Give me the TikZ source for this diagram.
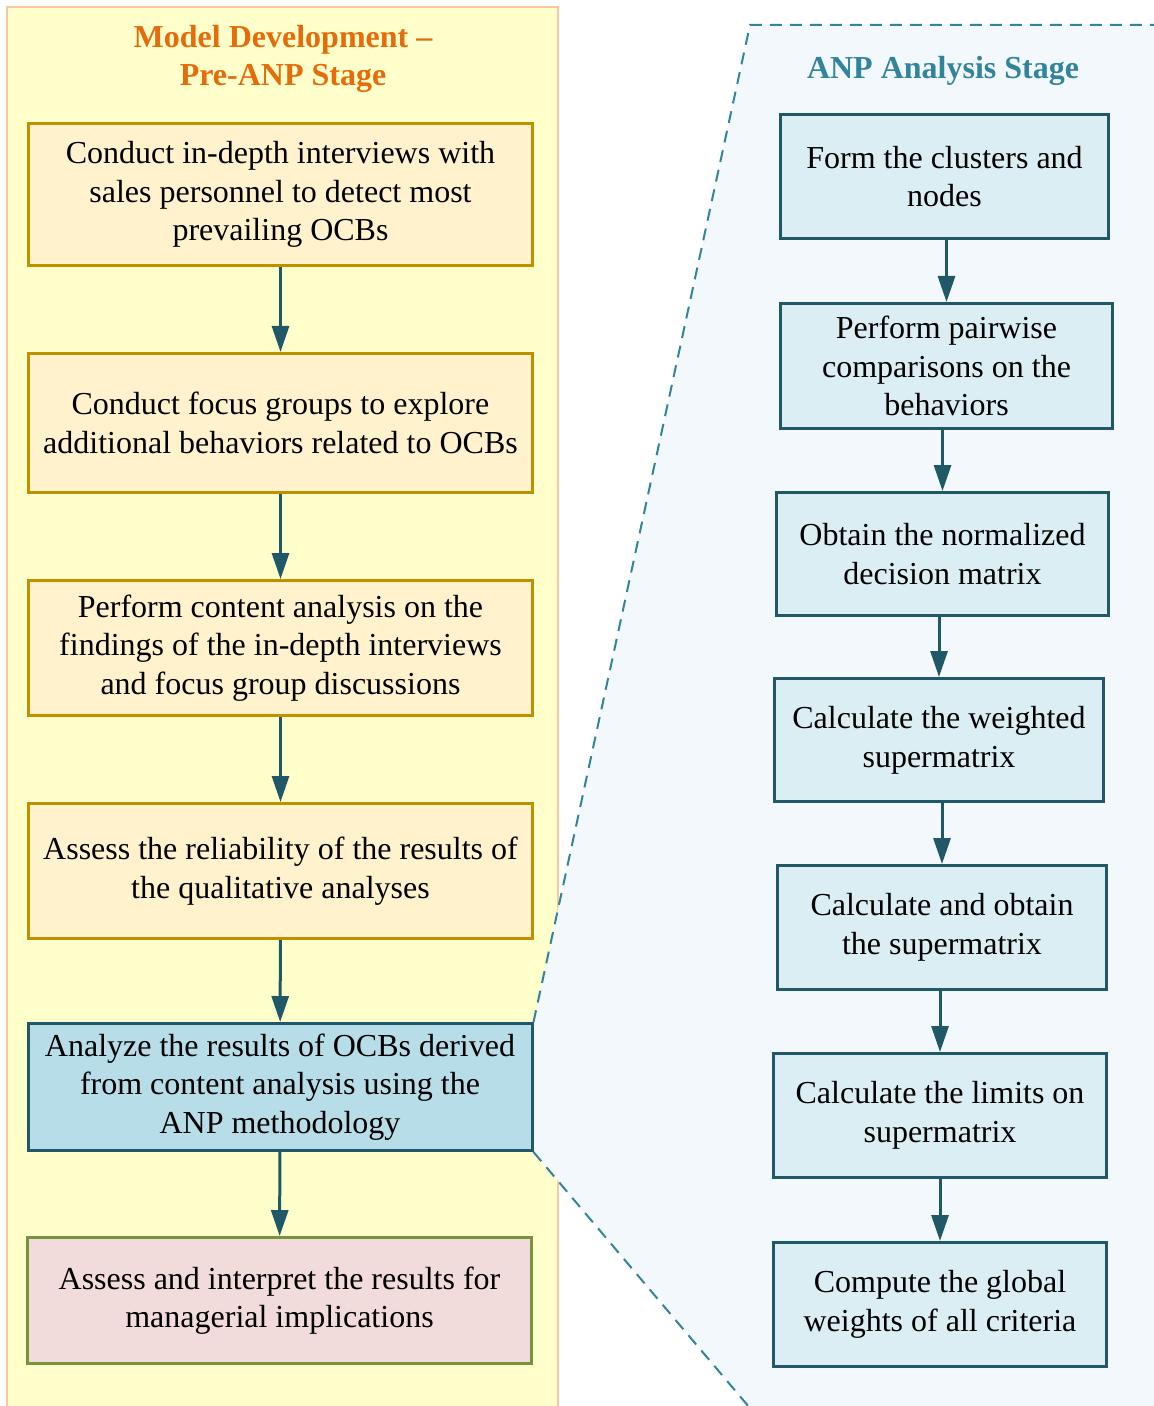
\documentclass[tikz,border=0pt]{standalone}
\usepackage{fontspec}
\setmainfont{Liberation Serif}
\usetikzlibrary{arrows.meta, backgrounds}

\definecolor{panelfill}{HTML}{FFFFCC}
\definecolor{panelline}{HTML}{F9C6A2}
\definecolor{prefill}{HTML}{FFF2CC}
\definecolor{preline}{HTML}{BF9000}
\definecolor{anpfill}{HTML}{B7DDE8}
\definecolor{anpline}{HTML}{215868}
\definecolor{lastfill}{HTML}{F2DCDB}
\definecolor{lastline}{HTML}{77933C}
\definecolor{zonefill}{HTML}{F2F8FB}
\definecolor{zoneline}{HTML}{31849B}
\definecolor{stepfill}{HTML}{DAEEF3}
\definecolor{titleorange}{HTML}{E46C0A}

\begin{document}
\begin{tikzpicture}[x=0.5pt, y=-0.5pt,
  every node/.style={font=\fontsize{16}{19.3}\selectfont, align=center, inner sep=0pt},
  boxtext/.style={execute at begin node={\rule{0pt}{14pt}}},
  prebox/.style={boxtext, draw=preline, fill=prefill, line width=1.5pt, minimum width=252pt},
  anpbox/.style={boxtext, draw=anpline, fill=stepfill, line width=1.5pt},
  flow/.style={draw=anpline, line width=1.5pt, -{Triangle[length=13pt, width=8.5pt]}}]
  \useasboundingbox (0,0) rectangle (1154,1406);

  % left column: pre-ANP stage
  \node[font=\fontsize{16}{19}\selectfont\bfseries, text=titleorange] (pretitle) at (283,59)
    {Model Development --\\ Pre-ANP Stage};

  \node[prebox, minimum height=71pt] (interviews) at (280.5,194.5)
    {Conduct in-depth interviews with\\ sales personnel to detect most\\ prevailing OCBs};
  \node[prebox, minimum height=69.5pt] (focus) at (280.5,423)
    {Conduct focus groups to explore\\ additional behaviors related to OCBs};
  \node[prebox, minimum height=67.5pt] (content) at (280.5,648)
    {Perform content analysis on the\\ findings of the in-depth interviews\\ and focus group discussions};
  \node[prebox, minimum height=67.5pt] (reliability) at (280.5,871)
    {Assess the reliability of the results of\\ the qualitative analyses};
  \node[prebox, draw=anpline, fill=anpfill, minimum height=63.5pt] (analyze) at (280,1087)
    {Analyze the results of OCBs derived\\ from content analysis using the\\ ANP methodology};
  \node[prebox, draw=lastline, fill=lastfill, minimum height=63pt] (implications) at (279.5,1300.5)
    {Assess and interpret the results for\\ managerial implications};

  \draw[flow] (interviews) -- (focus);
  \draw[flow] (focus) -- (content);
  \draw[flow] (content) -- (reliability);
  \draw[flow] (reliability) -- (analyze);
  \draw[flow] (analyze) -- (implications);

  % right column: ANP analysis stage
  \node[font=\fontsize{16}{19}\selectfont\bfseries, text=zoneline] (anptitle) at (943,71)
    {ANP Analysis Stage};

  \node[anpbox, minimum width=164pt, minimum height=62pt] (clusters) at (944.5,176.5)
    {Form the clusters and\\ nodes};
  \node[anpbox, minimum width=166pt, minimum height=62.5pt] (pairwise) at (946.5,366)
    {Perform pairwise\\ comparisons on the\\ behaviors};
  \node[anpbox, minimum width=166pt, minimum height=61.5pt] (normalized) at (942.5,554)
    {Obtain the normalized\\ decision matrix};
  \node[anpbox, minimum width=164.5pt, minimum height=61.5pt] (weighted) at (939,740)
    {Calculate the weighted\\ supermatrix};
  \node[anpbox, minimum width=164.5pt, minimum height=62pt] (supermatrix) at (942,927.5)
    {Calculate and obtain\\ the supermatrix};
  \node[anpbox, minimum width=166.5pt, minimum height=62pt] (limits) at (940,1115.5)
    {Calculate the limits on\\ supermatrix};
  \node[anpbox, minimum width=166.5pt, minimum height=62pt] (global) at (940,1304.5)
    {Compute the global\\ weights of all criteria};

  \draw[flow] (clusters.south -| pairwise) -- (pairwise);
  \draw[flow] (pairwise.south -| normalized) -- (normalized);
  \draw[flow] (normalized.south -| weighted) -- (weighted);
  \draw[flow] (weighted.south -| supermatrix) -- (supermatrix);
  \draw[flow] (supermatrix.south -| limits) -- (limits);
  \draw[flow] (limits.south -| global) -- (global);

  % panels behind the boxes
  \begin{scope}[on background layer]
    \draw[draw=panelline, fill=panelfill, line width=1pt] (7,7) rectangle (558,1430);
    \fill[zonefill] (analyze.north east) -- (750,25) -- (1170,25) -- (1170,1430)
      -- (760,1420) -- (analyze.south east) -- cycle;
    \draw[zoneline, line width=1pt, dash pattern=on 6pt off 4pt]
      (analyze.north east) -- (750,25) -- (1170,25);
    \draw[zoneline, line width=1pt, dash pattern=on 6pt off 4pt]
      (analyze.south east) -- (760,1420);
  \end{scope}
\end{tikzpicture}
\end{document}
